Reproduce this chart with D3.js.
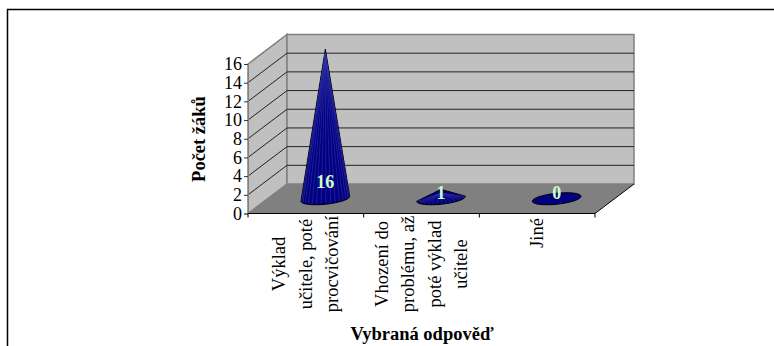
<!DOCTYPE html>
<html>
<head>
<meta charset="utf-8">
<script src="https://cdn.jsdelivr.net/npm/d3@7"></script>
<style>
body { margin: 0; background: #fff; }
svg { display: block; }
text { font-family: "Liberation Serif", serif; fill: #000; }
</style>
</head>
<body>
<script>
// data
var categories = ['Výklad učitele, poté procvičování', 'Vhození do problému, až poté výklad učitele', 'Jiné'];
var values = [16, 1, 0];
var yTicks = [0, 2, 4, 6, 8, 10, 12, 14, 16];
var categoryLines = [
    ['Výklad', 'učitele, poté', 'procvičování'],
    ['Vhození do', 'problému, až', 'poté výklad', 'učitele'],
    ['Jiné']
];

var width = 774, height = 346;

var svg = d3.select('body').append('svg')
    .attr('width', width)
    .attr('height', height);

// outer frame, open on the right and bottom
svg.append('path')
    .attr('d', 'M7.5,346V9.5H774')
    .attr('fill', 'none')
    .attr('stroke', '#000')
    .attr('stroke-width', 1.5);

// front plane scales
var x = d3.scaleBand().domain(categories).range([248, 595]);
var y = d3.scaleLinear().domain([0, 16]).range([213.5, 64]);
var depthX = 39, depthY = -29.5;

var x0 = x.range()[0], x1 = x.range()[1], y0 = y(0), yTop = y(16);

// walls
svg.append('path')
    .attr('d', 'M' + x0 + ',' + y0 + 'V' + yTop + 'L' + (x0 + depthX) + ',' + (yTop + depthY) + 'V' + (y0 + depthY) + 'Z')
    .attr('fill', '#c0c0c0')
    .attr('stroke', '#808080')
    .attr('stroke-width', 1.5);
svg.append('rect')
    .attr('x', x0 + depthX).attr('y', yTop + depthY)
    .attr('width', x1 - x0).attr('height', y0 - yTop)
    .attr('fill', '#c0c0c0')
    .attr('stroke', '#808080')
    .attr('stroke-width', 1.5);

// gridlines
svg.append('g').selectAll('path')
    .data(yTicks.filter(function(d) { return d > 0 && d < 16; }))
    .enter().append('path')
    .attr('d', function(d) {
        return 'M' + x0 + ',' + y(d) + 'L' + (x0 + depthX) + ',' + (y(d) + depthY) + 'H' + (x1 + depthX);
    })
    .attr('fill', 'none')
    .attr('stroke', '#222');

// floor
svg.append('path')
    .attr('d', 'M' + x0 + ',' + y0 + 'L' + (x0 + depthX) + ',' + (y0 + depthY) + 'H' + (x1 + depthX) + 'L' + x1 + ',' + y0 + 'Z')
    .attr('fill', '#808080');
svg.append('line')
    .attr('x1', x1).attr('y1', y0)
    .attr('x2', x1 + depthX).attr('y2', y0 + depthY)
    .attr('stroke', '#000');

// y axis
var yAxis = d3.axisLeft(y).tickValues(yTicks).tickSize(4).tickPadding(2);
var gy = svg.append('g').attr('transform', 'translate(' + x0 + ',0)').call(yAxis);
gy.select('.domain').attr('stroke', '#808080');
gy.selectAll('line').attr('stroke', '#333');
gy.selectAll('text')
    .style('font-family', '"Liberation Serif", serif')
    .style('font-size', '18px')
    .attr('fill', '#000');

// x axis baseline and ticks
svg.append('line')
    .attr('x1', x0).attr('x2', x1)
    .attr('y1', y0).attr('y2', y0)
    .attr('stroke', '#000');
svg.append('g').selectAll('line')
    .data([x0].concat(categories.map(function(c) { return x(c) + x.bandwidth(); })))
    .enter().append('line')
    .attr('x1', function(d) { return d; })
    .attr('x2', function(d) { return d; })
    .attr('y1', y0).attr('y2', y0 + 4)
    .attr('stroke', '#000');

// cones
var rx = 24.5, ry = 5.5, tilt = -6;
var baseY = y0 + depthY / 2;
var rad = tilt * Math.PI / 180;

function bandMid(c) { return x(c) + x.bandwidth() / 2; }
function coneX(c) { return bandMid(c) + depthX / 2; }

// a point on the tilted base ellipse
function rim(c, t) {
    var px = rx * Math.cos(t), py = ry * Math.sin(t);
    return [c + px * Math.cos(rad) - py * Math.sin(rad), baseY + px * Math.sin(rad) + py * Math.cos(rad)];
}

var cones = svg.append('g').selectAll('g').data(values).enter().append('g');

cones.append('path')
    .attr('d', function(d, i) {
        var c = coneX(categories[i]);
        var right = rim(c, 0), left = rim(c, Math.PI);
        var arc = 'A' + rx + ',' + ry + ' ' + tilt + ' 0 0 ';
        var p = 'M' + left + arc + right;
        if (d > 0) return p + 'L' + c + ',' + (baseY - (y0 - y(d))) + 'Z';
        return p + arc + left + 'Z';
    })
    .attr('fill', '#000080')
    .attr('stroke', '#000');

// lighter facets fanning down from the apex
cones.filter(function(d) { return d > 0; }).each(function(d) {
    var i = values.indexOf(d);
    var c = coneX(categories[i]);
    d3.select(this).selectAll('line')
        .data(d3.range(1, 16).map(function(k) { return rim(c, Math.PI * k / 16); }))
        .enter().append('line')
        .attr('x1', c)
        .attr('y1', baseY - (y0 - y(d)) + 4)
        .attr('x2', function(p) { return p[0]; })
        .attr('y2', function(p) { return p[1] - 1; })
        .attr('stroke', '#3030a8')
        .attr('stroke-width', 0.6);
});

// value labels
cones.append('text')
    .attr('x', function(d, i) { return coneX(categories[i]); })
    .attr('y', function(d) { return d > 1 ? baseY - 11 : baseY; })
    .attr('text-anchor', 'middle')
    .style('font-size', '18px')
    .style('font-weight', 'bold')
    .style('fill', '#ccffcc')
    .text(function(d) { return d; });

// category labels, rotated and wrapped
categoryLines.forEach(function(lines, i) {
    var c = bandMid(categories[i]);
    var mid = lines.length > 1 ? 264 : 233;
    lines.forEach(function(l, j) {
        svg.append('text')
            .attr('transform', 'translate(' + (c + (j - (lines.length - 1) / 2) * 26.5 + 6) + ',' + mid + ') rotate(-90)')
            .attr('text-anchor', 'middle')
            .style('font-size', '18.5px')
            .text(l);
    });
});

// axis titles
svg.append('text')
    .attr('transform', 'translate(205,139) rotate(-90)')
    .attr('text-anchor', 'middle')
    .style('font-size', '18.5px')
    .style('font-weight', 'bold')
    .text('Počet žáků');
svg.append('text')
    .attr('x', 422).attr('y', 340)
    .attr('text-anchor', 'middle')
    .style('font-size', '18.5px')
    .style('font-weight', 'bold')
    .text('Vybraná odpověď');
</script>
</body>
</html>
